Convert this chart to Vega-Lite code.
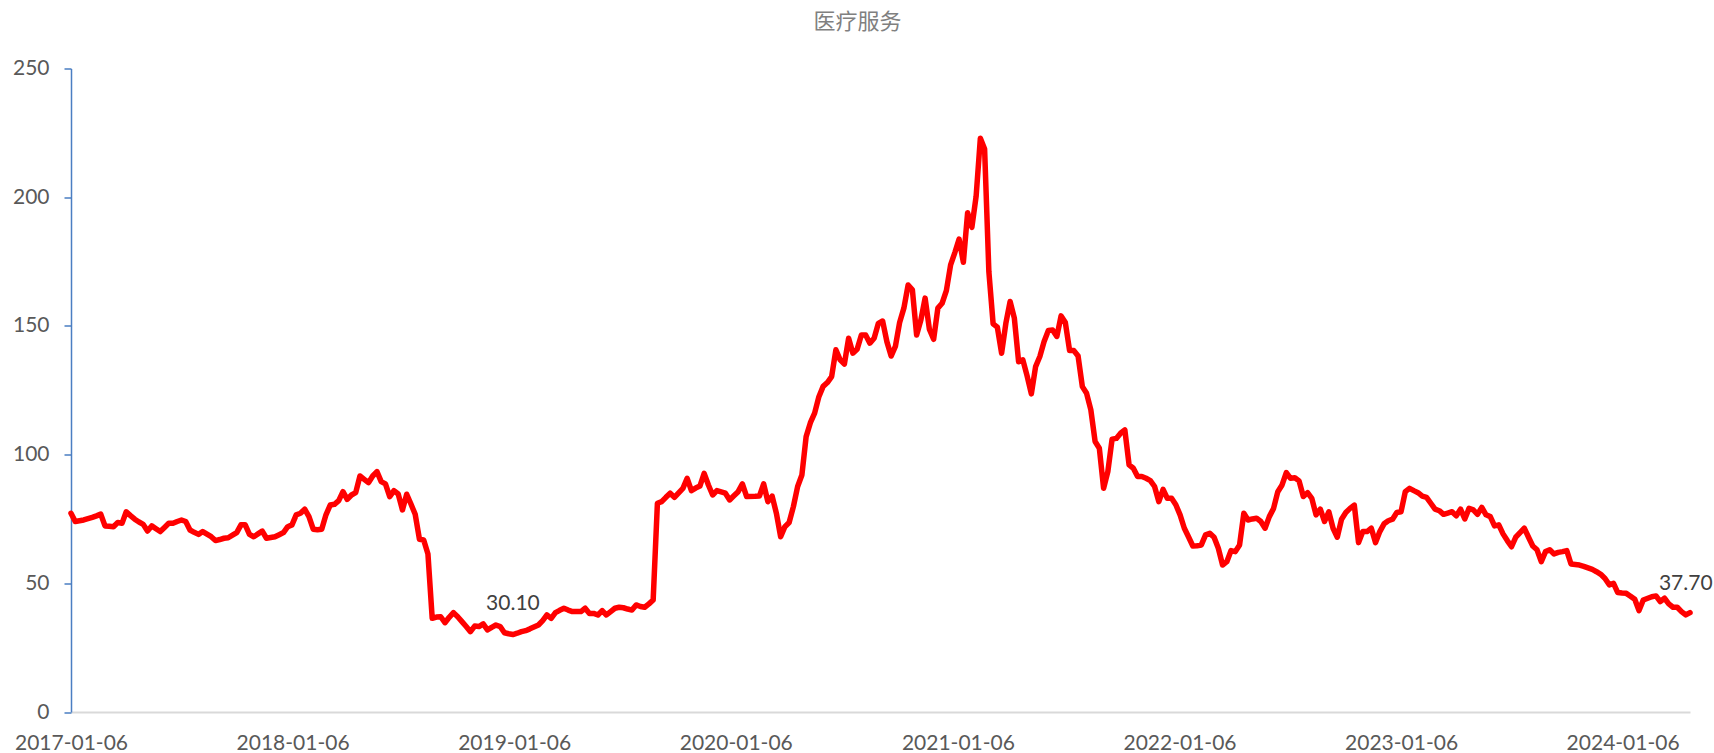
{
  "$schema": "https://vega.github.io/schema/vega-lite/v6.json",
  "width": 1619,
  "height": 643.5,
  "autosize": {"type": "none"},
  "padding": {"left": 71, "top": 68.5, "right": 24, "bottom": 41},
  "background": "white",
  "config": {"view": {"stroke": null}},
  "title": {"text": "医疗服务", "font": "Noto Sans CJK SC", "fontSize": 22, "fontWeight": "normal", "color": "#808080", "anchor": "middle", "frame": "group", "dx": -23, "offset": 24},
  "data": {"values": [
    {"date":"2017-01-06","value":77.2},{"date":"2017-01-13","value":74.0},{"date":"2017-01-20","value":74.3},{"date":"2017-01-27","value":74.6},
    {"date":"2017-02-03","value":75.1},{"date":"2017-02-10","value":75.6},{"date":"2017-02-17","value":76.2},{"date":"2017-02-24","value":76.9},
    {"date":"2017-03-03","value":72.3},{"date":"2017-03-10","value":72.2},{"date":"2017-03-17","value":72.0},{"date":"2017-03-24","value":73.6},{"date":"2017-03-31","value":73.3},
    {"date":"2017-04-07","value":77.8},{"date":"2017-04-14","value":76.3},{"date":"2017-04-21","value":74.9},{"date":"2017-04-28","value":73.8},
    {"date":"2017-05-05","value":72.9},{"date":"2017-05-12","value":70.3},{"date":"2017-05-19","value":72.3},{"date":"2017-05-26","value":71.2},
    {"date":"2017-06-02","value":70.1},{"date":"2017-06-09","value":71.7},{"date":"2017-06-16","value":73.3},{"date":"2017-06-23","value":73.3},{"date":"2017-06-30","value":74.0},
    {"date":"2017-07-07","value":74.6},{"date":"2017-07-14","value":74.0},{"date":"2017-07-21","value":70.7},{"date":"2017-07-28","value":69.8},
    {"date":"2017-08-04","value":69.0},{"date":"2017-08-11","value":70.1},{"date":"2017-08-18","value":69.1},{"date":"2017-08-25","value":68.1},
    {"date":"2017-09-01","value":66.6},{"date":"2017-09-08","value":67.0},{"date":"2017-09-15","value":67.5},{"date":"2017-09-22","value":67.7},{"date":"2017-09-29","value":68.7},
    {"date":"2017-10-06","value":69.7},{"date":"2017-10-13","value":72.7},{"date":"2017-10-20","value":72.7},{"date":"2017-10-27","value":69.0},
    {"date":"2017-11-03","value":68.1},{"date":"2017-11-10","value":69.2},{"date":"2017-11-17","value":70.3},{"date":"2017-11-24","value":67.5},
    {"date":"2017-12-01","value":67.8},{"date":"2017-12-08","value":68.1},{"date":"2017-12-15","value":68.9},{"date":"2017-12-22","value":69.7},{"date":"2017-12-29","value":72.0},
    {"date":"2018-01-05","value":72.7},{"date":"2018-01-12","value":76.6},{"date":"2018-01-19","value":77.2},{"date":"2018-01-26","value":78.8},
    {"date":"2018-02-02","value":75.9},{"date":"2018-02-09","value":71.0},{"date":"2018-02-16","value":70.8},{"date":"2018-02-23","value":71.0},
    {"date":"2018-03-02","value":76.6},{"date":"2018-03-09","value":80.4},{"date":"2018-03-16","value":80.7},{"date":"2018-03-23","value":82.1},{"date":"2018-03-30","value":85.6},
    {"date":"2018-04-06","value":82.6},{"date":"2018-04-13","value":84.3},{"date":"2018-04-20","value":85.2},{"date":"2018-04-27","value":91.7},
    {"date":"2018-05-04","value":90.4},{"date":"2018-05-11","value":89.1},{"date":"2018-05-18","value":91.7},{"date":"2018-05-25","value":93.4},
    {"date":"2018-06-01","value":89.5},{"date":"2018-06-08","value":88.6},{"date":"2018-06-15","value":83.7},{"date":"2018-06-22","value":86.0},{"date":"2018-06-29","value":84.7},
    {"date":"2018-07-06","value":78.5},{"date":"2018-07-13","value":84.6},{"date":"2018-07-20","value":80.8},{"date":"2018-07-27","value":76.8},
    {"date":"2018-08-03","value":67.1},{"date":"2018-08-10","value":66.8},{"date":"2018-08-17","value":61.4},{"date":"2018-08-24","value":36.4},{"date":"2018-08-31","value":36.9},
    {"date":"2018-09-07","value":37.0},{"date":"2018-09-14","value":34.7},{"date":"2018-09-21","value":36.8},{"date":"2018-09-28","value":38.6},
    {"date":"2018-10-05","value":37.0},{"date":"2018-10-12","value":35.1},{"date":"2018-10-19","value":33.2},{"date":"2018-10-26","value":31.2},
    {"date":"2018-11-02","value":33.4},{"date":"2018-11-09","value":33.2},{"date":"2018-11-16","value":34.2},{"date":"2018-11-23","value":31.9},{"date":"2018-11-30","value":32.9},
    {"date":"2018-12-07","value":33.8},{"date":"2018-12-14","value":33.2},{"date":"2018-12-21","value":30.8},{"date":"2018-12-28","value":30.4},
    {"date":"2019-01-04","value":30.1,"label":"30.10"},{"date":"2019-01-11","value":30.6},{"date":"2019-01-18","value":31.2},{"date":"2019-01-25","value":31.6},
    {"date":"2019-02-01","value":32.3},{"date":"2019-02-15","value":33.8},{"date":"2019-02-22","value":35.5},
    {"date":"2019-03-01","value":37.7},{"date":"2019-03-08","value":36.4},{"date":"2019-03-15","value":38.6},{"date":"2019-03-22","value":39.5},{"date":"2019-03-29","value":40.3},
    {"date":"2019-04-05","value":39.6},{"date":"2019-04-12","value":39.0},{"date":"2019-04-19","value":39.0},{"date":"2019-04-26","value":39.0},
    {"date":"2019-05-03","value":40.3},{"date":"2019-05-10","value":38.3},{"date":"2019-05-17","value":38.3},{"date":"2019-05-24","value":37.7},{"date":"2019-05-31","value":39.4},
    {"date":"2019-06-07","value":37.7},{"date":"2019-06-14","value":39.0},{"date":"2019-06-21","value":40.3},{"date":"2019-06-28","value":40.7},
    {"date":"2019-07-05","value":40.5},{"date":"2019-07-12","value":40.0},{"date":"2019-07-19","value":39.6},{"date":"2019-07-26","value":41.6},
    {"date":"2019-08-02","value":41.0},{"date":"2019-08-09","value":40.7},{"date":"2019-08-16","value":42.0},{"date":"2019-08-23","value":43.5},{"date":"2019-08-30","value":81.1},
    {"date":"2019-09-06","value":81.7},{"date":"2019-09-13","value":83.4},{"date":"2019-09-20","value":85.0},{"date":"2019-09-27","value":83.4},
    {"date":"2019-10-11","value":86.9},{"date":"2019-10-18","value":90.8},{"date":"2019-10-25","value":86.0},
    {"date":"2019-11-01","value":87.0},{"date":"2019-11-08","value":87.8},{"date":"2019-11-15","value":92.7},{"date":"2019-11-22","value":88.2},{"date":"2019-11-29","value":84.3},
    {"date":"2019-12-06","value":86.0},{"date":"2019-12-13","value":85.5},{"date":"2019-12-20","value":85.0},{"date":"2019-12-27","value":82.4},
    {"date":"2020-01-03","value":84.0},{"date":"2020-01-10","value":85.6},{"date":"2020-01-17","value":88.6},{"date":"2020-01-24","value":83.7},
    {"date":"2020-02-07","value":83.8},{"date":"2020-02-14","value":83.9},{"date":"2020-02-21","value":88.6},{"date":"2020-02-28","value":81.7},
    {"date":"2020-03-06","value":83.9},{"date":"2020-03-13","value":77.2},{"date":"2020-03-20","value":68.1},{"date":"2020-03-27","value":72.0},
    {"date":"2020-04-03","value":73.6},{"date":"2020-04-10","value":79.8},{"date":"2020-04-17","value":87.6},{"date":"2020-04-24","value":92.1},
    {"date":"2020-05-01","value":107.0},{"date":"2020-05-08","value":112.4},{"date":"2020-05-15","value":116.1},{"date":"2020-05-22","value":122.5},{"date":"2020-05-29","value":126.5},
    {"date":"2020-06-05","value":128.0},{"date":"2020-06-12","value":130.3},{"date":"2020-06-19","value":140.7},{"date":"2020-06-26","value":136.8},
    {"date":"2020-07-03","value":135.2},{"date":"2020-07-10","value":145.2},{"date":"2020-07-17","value":139.4},{"date":"2020-07-24","value":140.9},{"date":"2020-07-31","value":146.5},
    {"date":"2020-08-07","value":146.5},{"date":"2020-08-14","value":143.3},{"date":"2020-08-21","value":145.2},{"date":"2020-08-28","value":151.0},
    {"date":"2020-09-04","value":151.9},{"date":"2020-09-11","value":143.9},{"date":"2020-09-18","value":138.3},{"date":"2020-09-25","value":142.0},
    {"date":"2020-10-02","value":151.3},{"date":"2020-10-09","value":156.9},{"date":"2020-10-16","value":165.9},{"date":"2020-10-23","value":164.0},{"date":"2020-10-30","value":146.5},
    {"date":"2020-11-06","value":152.3},{"date":"2020-11-13","value":160.8},{"date":"2020-11-20","value":148.7},{"date":"2020-11-27","value":144.8},
    {"date":"2020-12-04","value":156.9},{"date":"2020-12-11","value":158.8},{"date":"2020-12-18","value":163.7},{"date":"2020-12-25","value":173.7},
    {"date":"2021-01-01","value":178.5},{"date":"2021-01-08","value":183.7},{"date":"2021-01-15","value":174.7},{"date":"2021-01-22","value":194.0},{"date":"2021-01-29","value":188.3},
    {"date":"2021-02-05","value":200.3},{"date":"2021-02-12","value":222.9},{"date":"2021-02-19","value":218.7},{"date":"2021-02-26","value":171.1},
    {"date":"2021-03-05","value":150.8},{"date":"2021-03-12","value":149.5},{"date":"2021-03-19","value":139.4},{"date":"2021-03-26","value":151.0},
    {"date":"2021-04-02","value":159.5},{"date":"2021-04-09","value":153.0},{"date":"2021-04-16","value":136.1},{"date":"2021-04-23","value":136.8},{"date":"2021-04-30","value":130.6},
    {"date":"2021-05-07","value":123.6},{"date":"2021-05-14","value":134.2},{"date":"2021-05-21","value":138.1},{"date":"2021-05-28","value":143.9},
    {"date":"2021-06-04","value":148.2},{"date":"2021-06-11","value":148.4},{"date":"2021-06-18","value":145.9},{"date":"2021-06-25","value":153.9},
    {"date":"2021-07-02","value":151.3},{"date":"2021-07-09","value":140.4},{"date":"2021-07-16","value":140.4},{"date":"2021-07-23","value":138.3},{"date":"2021-07-30","value":126.4},
    {"date":"2021-08-06","value":123.8},{"date":"2021-08-13","value":117.4},{"date":"2021-08-20","value":105.1},{"date":"2021-08-27","value":102.5},
    {"date":"2021-09-03","value":86.9},{"date":"2021-09-10","value":93.4},{"date":"2021-09-17","value":106.0},{"date":"2021-09-24","value":106.3},
    {"date":"2021-10-01","value":108.3},{"date":"2021-10-08","value":109.6},{"date":"2021-10-15","value":96.0},{"date":"2021-10-22","value":94.7},{"date":"2021-10-29","value":91.5},
    {"date":"2021-11-05","value":91.5},{"date":"2021-11-12","value":90.8},{"date":"2021-11-19","value":89.9},{"date":"2021-11-26","value":87.6},
    {"date":"2021-12-03","value":81.7},{"date":"2021-12-10","value":86.5},{"date":"2021-12-17","value":83.0},{"date":"2021-12-24","value":83.0},{"date":"2021-12-31","value":80.5},
    {"date":"2022-01-07","value":76.6},{"date":"2022-01-14","value":71.4},{"date":"2022-01-21","value":68.0},{"date":"2022-01-28","value":64.5},
    {"date":"2022-02-04","value":64.6},{"date":"2022-02-11","value":64.9},{"date":"2022-02-18","value":68.8},{"date":"2022-02-25","value":69.4},
    {"date":"2022-03-04","value":67.9},{"date":"2022-03-11","value":63.6},{"date":"2022-03-18","value":57.1},{"date":"2022-03-25","value":58.4},
    {"date":"2022-04-01","value":62.7},{"date":"2022-04-08","value":62.3},{"date":"2022-04-15","value":64.9},{"date":"2022-04-22","value":77.2},{"date":"2022-04-29","value":74.6},
    {"date":"2022-05-06","value":75.0},{"date":"2022-05-13","value":75.3},{"date":"2022-05-20","value":74.0},{"date":"2022-05-27","value":71.4},
    {"date":"2022-06-03","value":75.9},{"date":"2022-06-10","value":79.1},{"date":"2022-06-17","value":85.6},{"date":"2022-06-24","value":88.2},
    {"date":"2022-07-01","value":93.0},{"date":"2022-07-08","value":90.8},{"date":"2022-07-15","value":91.0},{"date":"2022-07-22","value":89.8},{"date":"2022-07-29","value":83.7},
    {"date":"2022-08-05","value":85.2},{"date":"2022-08-12","value":83.0},{"date":"2022-08-19","value":76.6},{"date":"2022-08-26","value":78.8},
    {"date":"2022-09-02","value":74.0},{"date":"2022-09-09","value":77.8},{"date":"2022-09-16","value":71.4},{"date":"2022-09-23","value":67.9},{"date":"2022-09-30","value":74.9},
    {"date":"2022-10-07","value":77.5},{"date":"2022-10-14","value":79.1},{"date":"2022-10-21","value":80.4},{"date":"2022-10-28","value":65.8},
    {"date":"2022-11-04","value":70.1},{"date":"2022-11-11","value":70.1},{"date":"2022-11-18","value":71.4},{"date":"2022-11-25","value":65.8},
    {"date":"2022-12-02","value":70.1},{"date":"2022-12-09","value":73.1},{"date":"2022-12-16","value":74.3},{"date":"2022-12-23","value":74.9},{"date":"2022-12-30","value":77.5},
    {"date":"2023-01-06","value":77.8},{"date":"2023-01-13","value":85.6},{"date":"2023-01-20","value":86.9},{"date":"2023-01-27","value":86.0},
    {"date":"2023-02-03","value":85.2},{"date":"2023-02-10","value":83.9},{"date":"2023-02-17","value":83.4},{"date":"2023-02-24","value":81.1},
    {"date":"2023-03-03","value":78.8},{"date":"2023-03-10","value":78.2},{"date":"2023-03-17","value":76.8},{"date":"2023-03-24","value":77.3},{"date":"2023-03-31","value":77.8},
    {"date":"2023-04-07","value":76.2},{"date":"2023-04-14","value":78.8},{"date":"2023-04-21","value":75.0},{"date":"2023-04-28","value":79.1},
    {"date":"2023-05-05","value":78.5},{"date":"2023-05-12","value":76.8},{"date":"2023-05-19","value":79.5},{"date":"2023-05-26","value":76.6},
    {"date":"2023-06-02","value":75.9},{"date":"2023-06-09","value":72.3},{"date":"2023-06-16","value":72.7},{"date":"2023-06-23","value":69.2},{"date":"2023-06-30","value":66.6},
    {"date":"2023-07-07","value":64.2},{"date":"2023-07-14","value":67.9},{"date":"2023-07-21","value":69.7},{"date":"2023-07-28","value":71.4},
    {"date":"2023-08-04","value":67.9},{"date":"2023-08-11","value":64.5},{"date":"2023-08-18","value":63.0},{"date":"2023-08-25","value":58.4},
    {"date":"2023-09-01","value":62.3},{"date":"2023-09-08","value":63.0},{"date":"2023-09-15","value":61.4},{"date":"2023-09-22","value":62.0},{"date":"2023-09-29","value":62.3},
    {"date":"2023-10-06","value":62.7},{"date":"2023-10-13","value":57.5},{"date":"2023-10-20","value":57.3},{"date":"2023-10-27","value":57.1},
    {"date":"2023-11-03","value":56.6},{"date":"2023-11-10","value":56.0},{"date":"2023-11-17","value":55.4},{"date":"2023-11-24","value":54.5},
    {"date":"2023-12-01","value":53.5},{"date":"2023-12-08","value":51.9},{"date":"2023-12-15","value":49.4},{"date":"2023-12-22","value":50.0},{"date":"2023-12-29","value":46.4},
    {"date":"2024-01-05","value":46.2},{"date":"2024-01-12","value":46.1},{"date":"2024-01-19","value":45.0},{"date":"2024-01-26","value":43.8},
    {"date":"2024-02-02","value":39.4},{"date":"2024-02-09","value":43.5},{"date":"2024-02-23","value":44.8},
    {"date":"2024-03-01","value":45.1},{"date":"2024-03-08","value":42.9},{"date":"2024-03-15","value":44.2},{"date":"2024-03-22","value":42.0},{"date":"2024-03-29","value":40.7},
    {"date":"2024-04-05","value":40.7},{"date":"2024-04-12","value":39.0},{"date":"2024-04-19","value":37.7,"label":"37.70"},{"date":"2024-04-26","value":38.6}
  ]},
  "encoding": {
    "x": {"field": "date", "type": "temporal",
      "scale": {"type": "utc", "domain": [{"year": 2017, "month": 1, "date": 6, "utc": true}, {"year": 2024, "month": 4, "date": 26, "utc": true}]},
      "axis": {"title": null, "grid": false, "ticks": false, "domainColor": "#D9D9D9", "domainWidth": 2,
        "values": [{"year": 2017, "month": 1, "date": 6, "utc": true}, {"year": 2018, "month": 1, "date": 6, "utc": true}, {"year": 2019, "month": 1, "date": 6, "utc": true}, {"year": 2020, "month": 1, "date": 6, "utc": true}, {"year": 2021, "month": 1, "date": 6, "utc": true}, {"year": 2022, "month": 1, "date": 6, "utc": true}, {"year": 2023, "month": 1, "date": 6, "utc": true}, {"year": 2024, "month": 1, "date": 6, "utc": true}],
        "format": "%Y-%m-%d", "labelFont": "Lato", "labelFontSize": 21, "labelColor": "#595959", "labelPadding": 20, "labelFlush": false, "labelOverlap": false, "labelBound": false}},
    "y": {"field": "value", "type": "quantitative",
      "scale": {"domain": [0, 250], "nice": false, "zero": true},
      "axis": {"title": null, "grid": false, "values": [0, 50, 100, 150, 200, 250], "domainColor": "#4A7EC2", "domainWidth": 1.5, "tickColor": "#4A7EC2", "tickWidth": 1.5, "tickSize": 7,
        "labelFont": "Lato", "labelFontSize": 21, "labelColor": "#595959", "labelPadding": 15}}
  },
  "layer": [
    {"mark": {"type": "line", "color": "#FF0000", "strokeWidth": 5.5, "strokeJoin": "round", "strokeCap": "round"}},
    {"transform": [{"filter": "datum.label != null"}],
     "mark": {"type": "text", "dy": -31, "font": "Lato", "fontSize": 21, "color": "#404040", "baseline": "middle", "align": "center"},
     "encoding": {"text": {"field": "label"}}}
  ]
}
